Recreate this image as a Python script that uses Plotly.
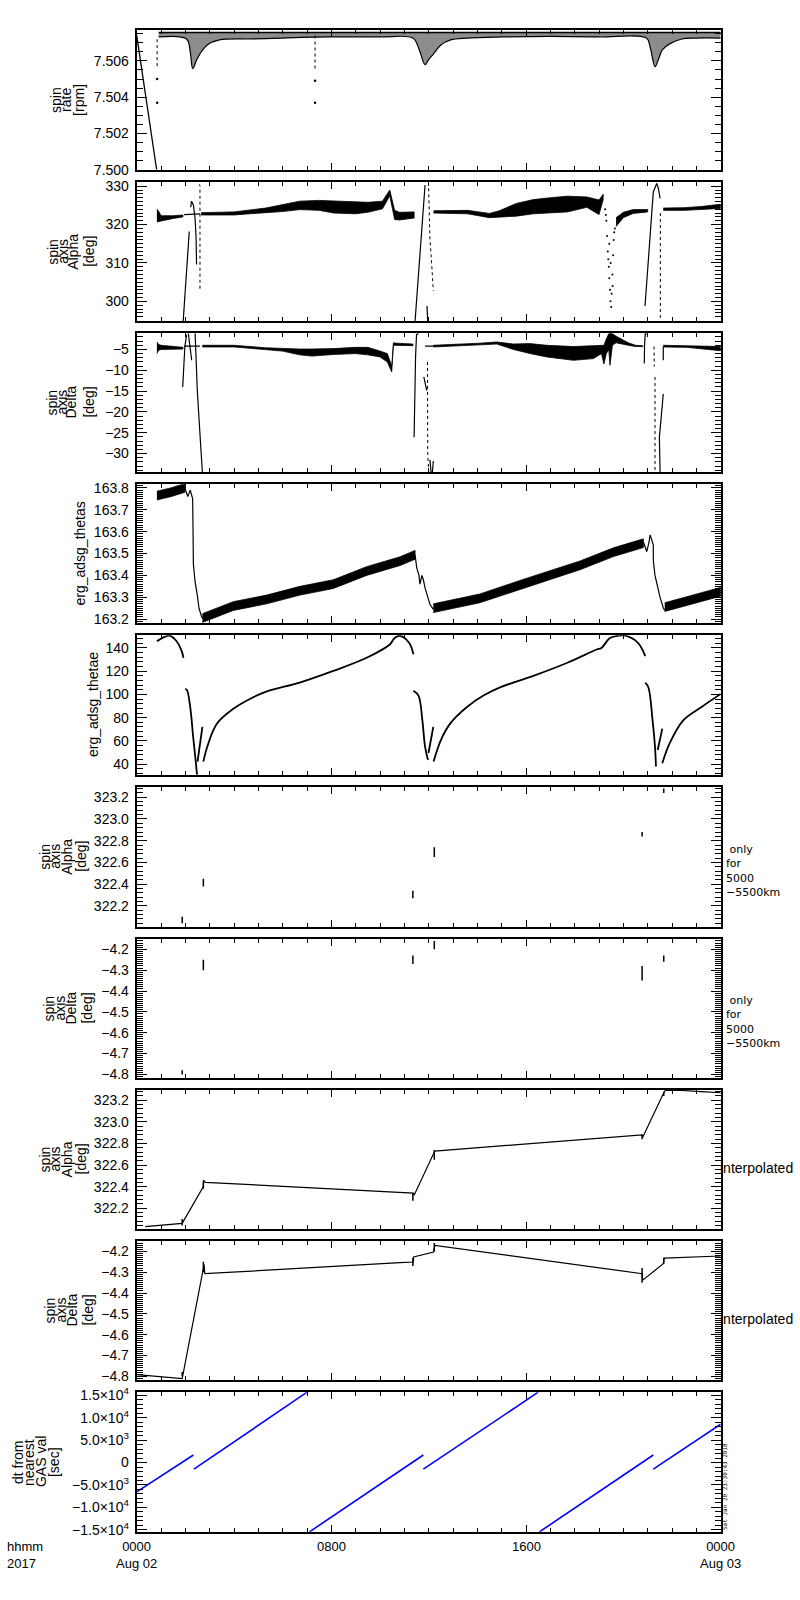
import plotly.graph_objects as go

# %%
# time is hours after 0000 Aug 02 2017

# 1 - spin rate [rpm]
rate_ramp_t = [0.0, 0.82]
rate_ramp_v = [7.50741, 7.50000]
rate_drop_t = [0.84, 0.84, None, 7.33, 7.33]
rate_drop_v = [7.5072, 7.5056, None, 7.5074, 7.5055]
rate_dot_t = [0.84, 0.84, 7.33, 7.33]
rate_dot_v = [7.5050, 7.5037, 7.5049, 7.5037]
rate_low_t = [0.9, 2.05, 2.2, 2.3, 2.45, 2.6, 2.9, 3.4, 4.8, 6.0, 8.0, 10.0, 11.35, 11.6,
              11.85, 12.0, 12.2, 12.5, 12.9, 13.6, 15.0, 17.0, 19.0, 20.95, 21.1, 21.3,
              21.45, 21.6, 21.9, 22.4, 23.0, 24.0]
rate_low_v = [7.50732, 7.50721, 7.50650, 7.50558, 7.50601, 7.50639, 7.50688, 7.50716,
              7.50721, 7.50726, 7.50732, 7.50732, 7.50726, 7.50666, 7.50579, 7.50607,
              7.50639, 7.50688, 7.50716, 7.50726, 7.50732, 7.50735, 7.50732, 7.50726,
              7.50677, 7.50568, 7.50612, 7.50661, 7.50694, 7.50721, 7.50726, 7.50726]
rate_top_t = [0.9, 24.0]
rate_top_v = [7.50757, 7.50757]

# 2 - spin axis Alpha [deg]
alpha_a_t = [0.83, 0.9, 1.0, 1.5, 1.9]
alpha_a_lo = [320.7, 320.8, 320.9, 321.6, 322.0]
alpha_a_hi = [324.0, 323.5, 322.3, 322.3, 322.5]
alpha_b_t = [2.65, 4.0, 5.3, 6.0, 6.7, 7.5, 8.1, 9.0, 9.5, 10.1, 10.4, 10.6, 10.8, 11.4]
alpha_b_lo = [322.5, 322.5, 323.1, 323.4, 323.9, 323.7, 323.0, 322.8, 323.2, 324.1, 327.5, 321.3, 321.2, 321.7]
alpha_b_hi = [323.1, 323.3, 324.3, 325.2, 326.1, 326.3, 326.2, 326.0, 325.8, 326.1, 329.0, 323.7, 323.2, 323.3]
alpha_c_t = [12.2, 13.0, 13.6, 14.5, 14.9, 15.6, 16.3, 17.0, 17.7, 18.5, 19.0, 19.17]
alpha_c_lo = [323.0, 322.9, 322.8, 321.8, 322.0, 322.2, 322.8, 323.0, 323.3, 324.5, 322.6, 326.5]
alpha_c_hi = [323.6, 323.7, 323.7, 322.9, 323.6, 325.5, 326.5, 327.0, 327.4, 327.2, 326.4, 327.9]
alpha_d_t = [19.7, 20.0, 20.4, 21.0]
alpha_d_lo = [319.5, 321.8, 322.9, 323.3]
alpha_d_hi = [321.8, 323.2, 323.9, 323.9]
alpha_e_t = [21.64, 22.5, 23.2, 24.0]
alpha_e_lo = [323.7, 323.7, 323.9, 324.2]
alpha_e_hi = [324.3, 324.4, 324.7, 325.3]
alpha_lines_t = [1.91, 2.16, None, 2.22, 2.25, 2.33, 2.40, 2.44, 2.46, None,
                 11.44, 11.71, 11.85, None, 11.93, 11.96, None,
                 20.89, 21.1, 21.23, 21.37, 21.44, 21.51, None, 1.95, 2.6]
alpha_lines_v = [294.8, 318.2, None, 324.5, 326.1, 325.1, 321.6, 316.5, 309.6, None,
                 294.8, 318.2, 330.3, None, 298.8, 294.8, None,
                 298.8, 318.0, 328.5, 330.7, 329.4, 326.8, None, 322.6, 322.8]
alpha_dotted_t = [2.55, 2.6, 2.6, None, 11.99, 12.05, 12.12, 12.19, None, 21.52, 21.52, 21.56]
alpha_dotted_v = [330.5, 330.2, 303.1, None, 331.0, 316.5, 310.0, 302.7, None, 323.0, 295.8, 294.9]
alpha_scatter_t = [19.25, 19.28, 19.3, 19.33, 19.36, 19.38, 19.4, 19.42, 19.45, 19.47, 19.5,
                   19.52, 19.55, 19.58, 19.6, 19.62, 19.65, 19.42, 19.48, 19.56]
alpha_scatter_v = [324, 322.5, 321, 317, 313, 311, 309, 306, 303, 300, 298.5,
                   302, 307, 312, 316, 318, 319, 315, 310, 304]

# 3 - spin axis Delta [deg]
delta_a_t = [0.83, 0.9, 1.0, 1.5, 1.9]
delta_a_lo = [-6.0, -5.2, -5.0, -4.9, -4.9]
delta_a_hi = [-3.2, -3.8, -4.0, -4.3, -4.5]
delta_b_t = [2.7, 4.0, 5.3, 6.0, 6.7, 7.2, 8.1, 9.0, 9.5, 10.0, 10.3, 10.48, 10.55, 10.7, 11.0, 11.35]
delta_b_lo = [-4.4, -4.4, -5.0, -5.4, -6.3, -6.6, -6.2, -6.0, -6.3, -6.8, -8.0, -10.4, -4.0, -4.1, -4.1, -4.1]
delta_b_hi = [-4.0, -4.0, -4.6, -4.8, -4.9, -4.9, -4.8, -4.5, -4.5, -5.4, -6.0, -9.0, -3.4, -3.5, -3.6, -3.7]
delta_c_t = [12.19, 13.15, 14.1, 14.8, 15.48, 16.17, 16.85, 17.95, 18.77, 19.1, 19.2, 19.3, 19.4,
             19.45, 19.55, 19.7, 19.9, 20.2, 20.5, 20.8]
delta_c_lo = [-4.4, -4.2, -3.9, -3.7, -5.0, -6.0, -6.8, -7.6, -7.2, -6.0, -8.5, -6.0, -5.0,
              -8.8, -4.0, -3.4, -3.6, -4.0, -4.3, -4.3]
delta_c_hi = [-4.0, -3.8, -3.5, -3.2, -3.7, -3.6, -4.0, -4.3, -4.1, -4.0, -4.0, -2.5, -1.2,
              -1.1, -1.2, -1.8, -2.4, -3.4, -4.0, -4.1]
delta_d_t = [21.64, 22.6, 23.3, 24.0]
delta_d_lo = [-4.4, -4.5, -4.9, -5.3]
delta_d_hi = [-4.0, -4.1, -4.2, -4.3]
delta_lines_t = [1.89, 1.98, 2.05, None, 2.12, 2.18, 2.26, None, 2.4, 2.49, 2.6, 2.7, None,
                 1.95, 2.6, None, 11.58, 11.5, 11.46, 11.42, 11.40, None, 11.8, 11.87, 11.92, None,
                 12.05, 12.1, 12.15, 12.19, None, 11.85, 12.2, None,
                 20.95, 20.9, 20.87, 20.86, None, 21.64, 21.48, 21.51, None, 21.64, 21.64]
delta_lines_v = [-14.0, -4.3, -1.5, None, -1.1, -4.0, -7.6, None, -1.1, -14.8, -25.3, -34.6, None,
                 -4.2, -4.2, None, -1.2, -1.4, -6.8, -20.0, -26.1, None, -11.6, -13.5, -14.9, None,
                 -31.5, -34.6, -34.6, -31.8, None, -4.2, -4.2, None,
                 -1.4, -1.1, -4.0, -8.4, None, -15.7, -26.1, -34.6, None, -4.35, -7.6]
delta_dotted_t = [11.95, 11.95, 11.96, 12.0, None, 21.3, 21.3, None, 21.26, 21.27]
delta_dotted_v = [-8.0, -20.0, -30.0, -34.6, None, -11.6, -34.6, None, -4.3, -9.1]

# 4 - erg_adsg_thetas
thetas_a_t = [0.83, 1.4, 1.98]
thetas_a_lo = [163.745, 163.76, 163.78]
thetas_a_hi = [163.785, 163.80, 163.82]
thetas_b_t = [2.7, 3.97, 5.34, 6.71, 8.08, 9.45, 10.82, 11.44]
thetas_b_lo = [163.185, 163.24, 163.27, 163.31, 163.34, 163.40, 163.445, 163.474]
thetas_b_hi = [163.225, 163.28, 163.31, 163.35, 163.38, 163.44, 163.485, 163.514]
thetas_c_t = [12.19, 14.1, 16.0, 18.22, 19.59, 20.82]
thetas_c_lo = [163.23, 163.275, 163.346, 163.426, 163.486, 163.527]
thetas_c_hi = [163.27, 163.315, 163.386, 163.466, 163.526, 163.567]
thetas_d_t = [21.7, 24.0]
thetas_d_lo = [163.235, 163.305]
thetas_d_hi = [163.275, 163.345]
thetas_lines_t = [1.98, 2.1, 2.2, 2.3, 2.33, 2.4, 2.49, 2.56, 2.67, 2.75, None,
                  11.44, 11.51, 11.6, 11.64, 11.72, 11.78, 11.85, 11.92, 12.05, 12.19, None,
                  20.82, 20.96, 21.05, 21.1, 21.23, 21.23, 21.3, 21.41, 21.51, 21.64, 21.7]
thetas_lines_v = [163.80, 163.76, 163.79, 163.75, 163.45, 163.37, 163.31, 163.25, 163.21, 163.20, None,
                  163.494, 163.433, 163.40, 163.36, 163.40, 163.38, 163.343, 163.313, 163.268, 163.245, None,
                  163.554, 163.509, 163.55, 163.585, 163.54, 163.47, 163.40, 163.343, 163.298, 163.252, 163.24]

# 5 - erg_adsg_thetae
thetae_t = [0.83, 1.1, 1.37, 1.64, 1.85, 1.92, None,
            1.99, 2.06, 2.2, 2.32, 2.42, 2.48, None, 2.5, 2.7, None,
            2.74, 2.9, 3.3, 3.97, 4.65, 5.35, 6.7, 8.08, 9.45, 10.4, 10.6, 10.82, 11.2, 11.37, None,
            11.37, 11.58, 11.74, 11.85, 11.97, None, 11.99, 12.19, None,
            12.2, 12.5, 12.88, 13.56, 14.25, 14.93, 16.3, 17.7, 18.9, 19.1, 19.45, 19.8, 20.1, 20.6, 20.9, None,
            20.9, 21.03, 21.2, 21.3, 21.34, None, 21.41, 21.6, None,
            21.6, 21.9, 22.46, 23.2, 24.0]
thetae_v = [145.7, 149.1, 150.4, 145.7, 137.2, 131.5, None,
            104.5, 104.0, 89.0, 63.5, 43.6, 30.9, None, 42.2, 72.0, None,
            42.2, 55.0, 74.9, 87.6, 96.1, 102.6, 110.2, 120.2, 131.5, 142.9, 148.5, 150.4, 144.3, 134.6, None,
            103.2, 99.0, 77.7, 55.0, 43.6, None, 49.6, 72.0, None,
            42.2, 60.7, 74.9, 89.0, 99.0, 106.0, 115.9, 127.2, 138.6, 140.0, 148.5, 150.5, 150.5, 144.3, 133.0, None,
            110.2, 106.0, 77.7, 55.0, 38.0, None, 52.2, 70.6, None,
            40.8, 57.9, 77.7, 89.0, 100.4]

# 6/7 - samples only for 5000-5500km (short vertical marks)
mark_t = [1.87, 2.74, 11.35, 12.23, 20.77, 21.66]
alpha_mark_lo = [322.04, 322.38, 322.27, 322.65, 322.84, 323.24]
alpha_mark_hi = [322.10, 322.45, 322.34, 322.74, 322.88, 323.28]
delta_mark_lo = [-4.80, -4.30, -4.27, -4.20, -4.35, -4.26]
delta_mark_hi = [-4.78, -4.25, -4.23, -4.16, -4.28, -4.23]

# 8/9 - interpolated
alpha_int_t = [0.35, 1.0, 1.87, 2.74, 2.75, 2.82, 10.82, 11.37, 11.40, 12.2, 12.25,
               20.77, 20.80, 21.66, 21.75, 23.2, 24.0]
alpha_int_v = [322.03, 322.04, 322.06, 322.40, 322.46, 322.44, 322.34, 322.34, 322.32, 322.70, 322.73,
               322.88, 322.86, 323.27, 323.30, 323.28, 323.27]
delta_int_t = [0.0, 1.87, 2.77, 2.80, 10.82, 11.37, 11.38, 12.2, 12.25, 20.77, 20.80, 21.64, 21.68, 24.0]
delta_int_v = [-4.792, -4.811, -4.263, -4.307, -4.254, -4.251, -4.227, -4.203, -4.171,
               -4.307, -4.338, -4.259, -4.232, -4.222]

# 10 - dt from nearest GAS val [sec]
dt_t = [0.0, 2.33, None, 2.35, 7.0, None, 7.1, 11.78, None, 11.78, 16.5, None,
        16.55, 21.23, None, 21.23, 24.0]
dt_v = [-6550, 1680, None, -1480, 15660, None, -15440, 1680, None, -1480, 15660, None,
        -15440, 1680, None, -1480, 8520]

# axes
y_ranges = [[7.5000, 7.5077], [294.8, 331.0], [-34.4, -1.1], [163.183, 163.817], [30.9, 150.8],
            [322.01, 323.295], [-4.818, -4.150], [322.01, 323.295], [-4.818, -4.150], [-15440, 15660]]
y_tickvals = [[7.500, 7.502, 7.504, 7.506], [300, 310, 320, 330], [-30, -25, -20, -15, -10, -5],
              [163.2, 163.3, 163.4, 163.5, 163.6, 163.7, 163.8], [40, 60, 80, 100, 120, 140],
              [322.2, 322.4, 322.6, 322.8, 323.0, 323.2], [-4.8, -4.7, -4.6, -4.5, -4.4, -4.3, -4.2],
              [322.2, 322.4, 322.6, 322.8, 323.0, 323.2], [-4.8, -4.7, -4.6, -4.5, -4.4, -4.3, -4.2],
              [-15000, -10000, -5000, 0, 5000, 10000, 15000]]
y_ticktext = [['7.500', '7.502', '7.504', '7.506'], ['300', '310', '320', '330'],
              ['−30', '−25', '−20', '−15', '−10', '−5'],
              ['163.2', '163.3', '163.4', '163.5', '163.6', '163.7', '163.8'],
              ['40', '60', '80', '100', '120', '140'],
              ['322.2', '322.4', '322.6', '322.8', '323.0', '323.2'],
              ['−4.8', '−4.7', '−4.6', '−4.5', '−4.4', '−4.3', '−4.2'],
              ['322.2', '322.4', '322.6', '322.8', '323.0', '323.2'],
              ['−4.8', '−4.7', '−4.6', '−4.5', '−4.4', '−4.3', '−4.2'],
              ['−1.5×10<sup>4</sup>', '−1.0×10<sup>4</sup>', '−5.0×10<sup>3</sup>', '0',
               '5.0×10<sup>3</sup>', '1.0×10<sup>4</sup>', '1.5×10<sup>4</sup>']]
y_minor = [0.0005, 1, 1, 0.01, 4, 0.04, 0.01, 0.04, 0.01, 1000]
y_titles = [[('spin', 56), ('rate', 66), ('[rpm]', 79)],
            [('spin', 53), ('axis', 63), ('Alpha', 73), ('[deg]', 89)],
            [('spin', 52), ('axis', 62), ('Delta', 71), ('[deg]', 89)],
            [('erg_adsg_thetas', 80)],
            [('erg_adsg_thetae', 93)],
            [('spin', 45), ('axis', 55), ('Alpha', 67), ('[deg]', 81)],
            [('spin', 49), ('axis', 60), ('Delta', 71), ('[deg]', 87)],
            [('spin', 45), ('axis', 55), ('Alpha', 67), ('[deg]', 81)],
            [('spin', 50), ('axis', 61), ('Delta', 72), ('[deg]', 88)],
            [('dt from', 18), ('nearest', 29), ('GAS val', 41), ('[sec]', 54)]]
side_text = [None, None, None, None, None,
             ' only<br>for<br>5000<br>−5500km', ' only<br>for<br>5000<br>−5500km',
             'interpolated', 'interpolated', None]
x_labels = [(0, '0000<br>Aug 02'), (8, '0800'), (16, '1600'), (24, '0000<br>Aug 03')]

# pixel layout of the 10 panels
W, H = 800, 1600
x_left, x_right = 136.7, 720.7
tops = [23.3, 177, 329.3, 481.7, 634.3, 787.3, 940.7, 1093.3, 1245.7, 1398.3]
bottoms = [164.3, 317.3, 469.3, 621.7, 775, 928.3, 1081.3, 1233.3, 1386, 1539.3]

fig = go.Figure()


def ax(n):
    return ('x', 'y') if n == 1 else (f'x{n}', f'y{n}')


def add_line(n, t, v, width=1.2, dash='solid', color='black', shape='linear'):
    xa, ya = ax(n)
    fig.add_trace(go.Scatter(x=t, y=v, mode='lines',
                             line=dict(color=color, width=width, dash=dash, shape=shape),
                             xaxis=xa, yaxis=ya, hoverinfo='skip'))


def add_band(n, t, lo, hi, color='black'):
    xa, ya = ax(n)
    fig.add_trace(go.Scatter(x=t + t[::-1], y=hi + lo[::-1], mode='lines', fill='toself',
                             fillcolor=color, line=dict(color=color, width=0.8),
                             xaxis=xa, yaxis=ya, hoverinfo='skip'))


def add_dots(n, t, v, size=2.5):
    xa, ya = ax(n)
    fig.add_trace(go.Scatter(x=t, y=v, mode='markers', marker=dict(color='black', size=size),
                             xaxis=xa, yaxis=ya, hoverinfo='skip'))


def add_marks(n, t, lo, hi):
    xs, ys = [], []
    for a, b, c in zip(t, lo, hi):
        xs += [a, a, None]
        ys += [b, c, None]
    add_line(n, xs, ys, width=1.5)


# %%
# panel 1
add_line(1, rate_low_t, rate_low_v, width=1.2, shape='spline')
xa, ya = ax(1)
fig.add_trace(go.Scatter(x=rate_top_t, y=rate_top_v, mode='lines', fill='tonexty',
                         fillcolor='rgba(0,0,0,0.45)', line=dict(color='black', width=1.5),
                         xaxis=xa, yaxis=ya, hoverinfo='skip'))
add_line(1, rate_ramp_t, rate_ramp_v, width=1.3)
add_line(1, rate_drop_t, rate_drop_v, width=1, dash='dot')
add_dots(1, rate_dot_t, rate_dot_v)

# panel 2
add_band(2, alpha_a_t, alpha_a_lo, alpha_a_hi)
add_band(2, alpha_b_t, alpha_b_lo, alpha_b_hi)
add_band(2, alpha_c_t, alpha_c_lo, alpha_c_hi)
add_band(2, alpha_d_t, alpha_d_lo, alpha_d_hi)
add_band(2, alpha_e_t, alpha_e_lo, alpha_e_hi)
add_line(2, alpha_lines_t, alpha_lines_v)
add_line(2, alpha_dotted_t, alpha_dotted_v, width=1, dash='dot')
add_dots(2, alpha_scatter_t, alpha_scatter_v, size=2)

# panel 3
add_band(3, delta_a_t, delta_a_lo, delta_a_hi)
add_band(3, delta_b_t, delta_b_lo, delta_b_hi)
add_band(3, delta_c_t, delta_c_lo, delta_c_hi)
add_band(3, delta_d_t, delta_d_lo, delta_d_hi)
add_line(3, delta_lines_t, delta_lines_v)
add_line(3, delta_dotted_t, delta_dotted_v, width=1, dash='dot')

# panel 4
add_band(4, thetas_a_t, thetas_a_lo, thetas_a_hi)
add_band(4, thetas_b_t, thetas_b_lo, thetas_b_hi)
add_band(4, thetas_c_t, thetas_c_lo, thetas_c_hi)
add_band(4, thetas_d_t, thetas_d_lo, thetas_d_hi)
add_line(4, thetas_lines_t, thetas_lines_v)

# panel 5
add_line(5, thetae_t, thetae_v, width=1.8, shape='spline')

# panels 6-9
add_marks(6, mark_t, alpha_mark_lo, alpha_mark_hi)
add_marks(7, mark_t, delta_mark_lo, delta_mark_hi)
add_line(8, alpha_int_t, alpha_int_v)
add_marks(8, mark_t, alpha_mark_lo, alpha_mark_hi)
add_line(9, delta_int_t, delta_int_v)
add_marks(9, mark_t, delta_mark_lo, delta_mark_hi)

# panel 10
add_line(10, dt_t, dt_v, width=1.6, color='#0000ff')

# %%
# axes and labels
layout = {}
ann = []
for i in range(10):
    n = i + 1
    xa, ya = ax(n)
    xkey = 'xaxis' if n == 1 else f'xaxis{n}'
    ykey = 'yaxis' if n == 1 else f'yaxis{n}'
    layout[xkey] = dict(domain=[x_left / W, x_right / W], anchor=ya, range=[0, 24],
                        tickmode='linear', tick0=0, dtick=8, showticklabels=False,
                        ticks='inside', ticklen=7, tickwidth=1, tickcolor='black',
                        minor=dict(tick0=0, dtick=1, ticks='inside', ticklen=4, tickwidth=1,
                                   tickcolor='black'),
                        showline=True, linecolor='black', linewidth=2, mirror='allticks',
                        showgrid=False, zeroline=False)
    layout[ykey] = dict(domain=[1 - bottoms[i] / H, 1 - tops[i] / H], anchor=xa, range=y_ranges[i],
                        tickmode='array', tickvals=y_tickvals[i], ticktext=y_ticktext[i],
                        ticks='inside', ticklen=10, tickwidth=1, tickcolor='black',
                        minor=dict(tick0=y_tickvals[i][0], dtick=y_minor[i], ticks='inside',
                                   ticklen=6, tickwidth=1, tickcolor='black'),
                        showline=True, linecolor='black', linewidth=2, mirror='allticks',
                        showgrid=False, zeroline=False, ticklabelstandoff=3,
                        tickfont=dict(family='Liberation Sans', size=14, color='black'))
    yc = (tops[i] + bottoms[i]) / 2
    for txt, xp in y_titles[i]:
        ann.append(dict(text=txt, x=xp / W, y=1 - yc / H, xref='paper', yref='paper',
                        textangle=-90, showarrow=False, xanchor='center', yanchor='middle',
                        font=dict(family='Liberation Sans', size=14, color='black')))
    if side_text[i]:
        if side_text[i] == 'interpolated':
            ann.append(dict(text=side_text[i], x=719 / W, y=1 - (yc + 9) / H, xref='paper',
                            yref='paper', showarrow=False, xanchor='left', yanchor='middle',
                            borderpad=0,
                            font=dict(family='Liberation Sans', size=14, color='black')))
        else:
            ann.append(dict(text=side_text[i], x=725 / W, y=1 - (yc + 14) / H, xref='paper',
                            yref='paper', showarrow=False, xanchor='left', yanchor='middle',
                            align='left', borderpad=0,
                            font=dict(family='DejaVu Sans', size=11, color='black')))

# time labels under the last panel
for hr, txt in x_labels:
    xp = x_left + (x_right - x_left) * hr / 24
    ann.append(dict(text=txt, x=xp / W, y=1 - 1545 / H, xref='paper', yref='paper',
                    showarrow=False, xanchor='center', yanchor='top', borderpad=0,
                    font=dict(family='Liberation Sans', size=13, color='black')))
ann.append(dict(text='hhmm<br>2017', x=6 / W, y=1 - 1545 / H, xref='paper', yref='paper',
                showarrow=False, xanchor='left', yanchor='top', align='left', borderpad=0,
                font=dict(family='Liberation Sans', size=13, color='black')))
ann.append(dict(text='Sat Jan 20 23:30:43 2018', x=725 / W, y=1 - 1494 / H, xref='paper', yref='paper',
                showarrow=False, textangle=-90, xanchor='center', yanchor='middle',
                font=dict(family='DejaVu Sans Mono', size=6, color='black')))

fig.update_layout(layout)
fig.update_layout(width=W, height=H, margin=dict(l=0, r=0, t=0, b=0), showlegend=False,
                  plot_bgcolor='white', paper_bgcolor='white', annotations=ann,
                  font=dict(family='Liberation Sans', size=14, color='black'))

# page has an 8px default body margin; drop it so the figure fills the window
fig.write_html("out.html", config={'displayModeBar': False},
               post_script="document.body.style.margin='0';document.body.style.overflow='hidden';")
